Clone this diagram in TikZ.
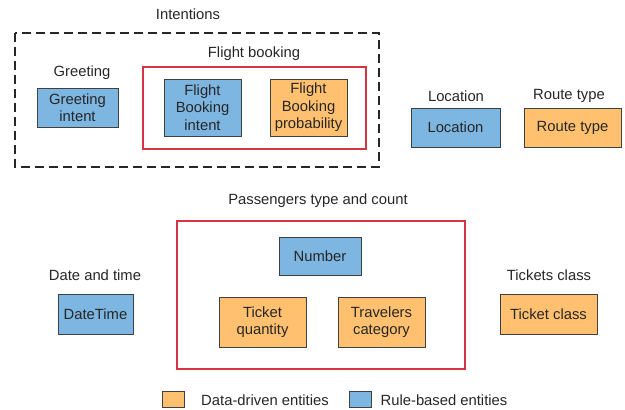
\documentclass[tikz,border=0pt]{standalone}
\usepackage{fontspec}
\setmainfont{Liberation Sans}
\definecolor{blueF}{RGB}{126,182,226}
\definecolor{orangeF}{RGB}{255,193,112}
\definecolor{redF}{RGB}{214,52,66}
\begin{document}
\begin{tikzpicture}[x=1pt,y=-1pt,
  every node/.style={font=\fontsize{14.8}{17.5}\selectfont, text=black!85},
  box/.style={draw=black!75, line width=0.9pt, inner sep=0pt, align=center},
  blue/.style={box, fill=blueF},
  orange/.style={box, fill=orangeF},
  lbl/.style={inner sep=0pt},
  group/.style={draw=redF, line width=1.1pt},
]
\useasboundingbox (0,0) rectangle (625,410);

% group frames
\draw[black!85, line width=1.3pt, dash pattern=on 9pt off 5pt] (15,33) rectangle (379,167);
\draw[group] (143,67) rectangle (366,149);
\draw[group] (177,221) rectangle (465,369);

% group labels
\node[lbl] (lint) at (188,14) {Intentions};
\node[lbl] (lfb) at (254,54) {Flight booking};
\node[lbl] (lgr) at (82,73) {Greeting};
\node[lbl] (lloc) at (456,96) {Location};
\node[lbl] (lrt) at (569,96) {Route type};
\node[lbl] (lpass) at (318,201) {Passengers type and count};
\node[lbl] (ldt) at (95,275) {Date and time};
\node[lbl] (ltc) at (549,275) {Tickets class};

% entity boxes
\node[blue, minimum width=81pt, minimum height=39pt] (gi) at (77.5,107.5) {Greeting\\intent};
\node[blue, minimum width=77pt, minimum height=57pt] (fbi) at (202.5,107.5) {Flight\\Booking\\intent};
\node[orange, minimum width=77pt, minimum height=57pt] (fbp) at (308.5,107.5) {Flight\\Booking\\probability};
\node[blue, minimum width=89pt, minimum height=39pt] (loc) at (455.5,127.5) {Location};
\node[orange, minimum width=97pt, minimum height=39pt] (rt) at (572.5,127.5) {Route type};
\node[blue, minimum width=82pt, minimum height=38pt] (num) at (320,256) {Number};
\node[orange, minimum width=87pt, minimum height=50pt] (tq) at (262.5,322) {Ticket\\quantity};
\node[orange, minimum width=87pt, minimum height=50pt] (tcat) at (381.5,322) {Travelers\\category};
\node[blue, minimum width=75pt, minimum height=40pt] (dt) at (95.5,314) {DateTime};
\node[orange, minimum width=97pt, minimum height=40pt] (tcl) at (548.5,314) {Ticket class};

% legend
\node[orange, minimum width=22pt, minimum height=16pt] (lgo) at (173,399) {};
\node[lbl] (lgot) at (265,400) {Data-driven entities};
\node[blue, minimum width=22pt, minimum height=16pt] (lgb) at (360,399) {};
\node[lbl] (lgbt) at (444,400) {Rule-based entities};
\end{tikzpicture}
\end{document}
